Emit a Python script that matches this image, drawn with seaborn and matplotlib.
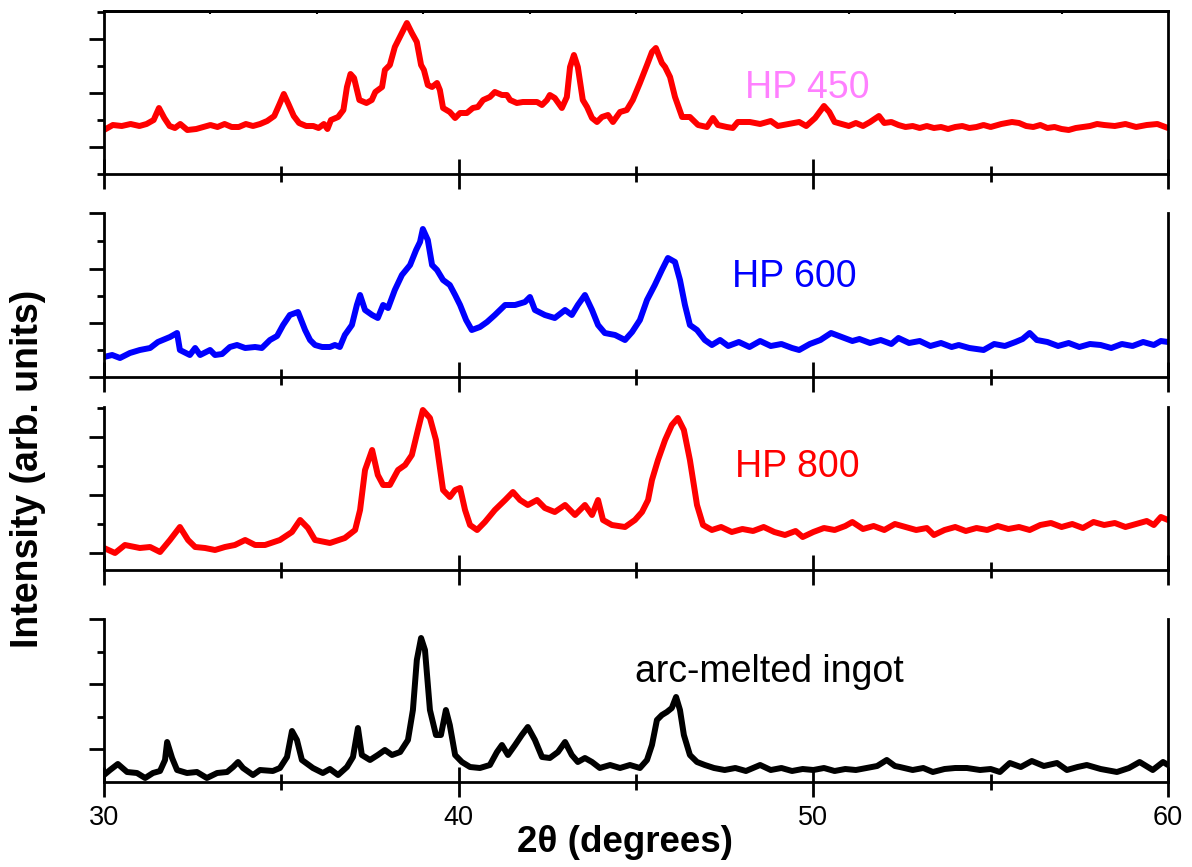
import numpy as np
import pandas as pd
import matplotlib
matplotlib.use("Agg")
import matplotlib.pyplot as plt
import seaborn as sns

# XRD patterns, 2-theta (degrees) vs intensity (arb. units)
hp450_2theta = [30.00, 30.25, 30.5, 30.75, 31.0, 31.2, 31.4, 31.55, 31.7, 31.85, 32.0, 32.15, 32.35, 32.6, 32.8,
                33.0, 33.2, 33.4, 33.6, 33.8, 34.0, 34.2, 34.4, 34.6, 34.8, 34.95, 35.07, 35.2, 35.35, 35.5, 35.7,
                35.9, 36.05, 36.2, 36.3, 36.4, 36.6, 36.75, 36.85, 36.95, 37.05, 37.2, 37.4, 37.55, 37.65, 37.84,
                37.92, 38.06, 38.2, 38.4, 38.54, 38.68, 38.82, 38.94, 39.02, 39.13, 39.25, 39.39, 39.47, 39.56,
                39.75, 39.9, 40.04, 40.23, 40.4, 40.54, 40.69, 40.88, 41.02, 41.22, 41.36, 41.45, 41.64, 41.81,
                42.01, 42.21, 42.35, 42.49, 42.57, 42.71, 42.91, 43.05, 43.14, 43.25, 43.36, 43.5, 43.62, 43.76,
                43.9, 44.04, 44.21, 44.35, 44.55, 44.74, 44.91, 45.11, 45.31, 45.45, 45.56, 45.73, 45.82, 45.96,
                46.1, 46.3, 46.52, 46.75, 47.0, 47.17, 47.31, 47.56, 47.73, 47.87, 48.21, 48.5, 48.8, 49.0, 49.3,
                49.6, 49.8, 50.05, 50.3, 50.45, 50.6, 50.8, 51.0, 51.2, 51.4, 51.6, 51.85, 52.0, 52.2, 52.4, 52.6,
                52.8, 53.0, 53.2, 53.4, 53.6, 53.8, 54.0, 54.2, 54.4, 54.6, 54.8, 55.0, 55.3, 55.6, 55.8, 56.0,
                56.2, 56.4, 56.6, 56.8, 57.0, 57.2, 57.4, 57.6, 57.8, 58.0, 58.2, 58.5, 58.8, 59.1, 59.4, 59.7, 60.0]
hp450_int = [44, 49, 48, 50, 48, 50, 54, 66, 56, 48, 46, 50, 44, 45, 47,
             49, 47, 50, 47, 47, 50, 48, 50, 53, 58, 70, 80, 70, 58, 51, 48,
             48, 46, 50, 45, 54, 57, 64, 87, 100, 96, 74, 71, 74, 82, 87,
             104, 109, 127, 141, 151, 141, 132, 109, 104, 89, 87, 91, 84, 66,
             62, 56, 61, 61, 66, 67, 74, 77, 82, 79, 79, 74, 71, 72,
             72, 72, 69, 74, 79, 76, 66, 77, 107, 119, 107, 74, 67, 56,
             52, 57, 59, 52, 62, 64, 74, 91, 109, 122, 126, 111, 107, 97,
             77, 57, 57, 49, 47, 56, 49, 47, 46, 52, 52, 50, 53, 48, 50,
             52, 48, 56, 68, 62, 52, 50, 48, 51, 48, 52, 58, 51, 52, 49, 47,
             48, 46, 48, 46, 47, 45, 47, 48, 46, 47, 49, 47, 50, 52, 51, 48,
             47, 49, 46, 47, 45, 44, 46, 47, 48, 50, 49, 48, 50, 47, 49, 50, 46]

hp600_2theta = [30.00, 30.23, 30.45, 30.73, 31.01, 31.30, 31.52, 31.86, 32.06, 32.14, 32.42, 32.57, 32.71, 32.99,
                33.13, 33.33, 33.55, 33.75, 33.98, 34.26, 34.45, 34.68, 34.88, 35.05, 35.24, 35.47, 35.67, 35.81,
                35.95, 36.15, 36.37, 36.51, 36.65, 36.79, 36.99, 37.13, 37.22, 37.36, 37.56, 37.72, 37.87, 38.01,
                38.20, 38.40, 38.63, 38.80, 38.91, 38.99, 39.13, 39.25, 39.39, 39.56, 39.75, 39.90, 40.04, 40.21,
                40.37, 40.60, 40.80, 41.02, 41.31, 41.59, 41.87, 42.01, 42.15, 42.43, 42.71, 43.00, 43.19, 43.36,
                43.56, 43.76, 43.93, 44.12, 44.41, 44.69, 44.89, 45.11, 45.31, 45.53, 45.73, 45.90, 46.10, 46.24,
                46.38, 46.52, 46.72, 46.94, 47.14, 47.37, 47.6, 47.9, 48.2, 48.5, 48.8, 49.1, 49.4, 49.6, 49.9,
                50.2, 50.5, 50.8, 51.1, 51.3, 51.6, 51.9, 52.2, 52.4, 52.7, 53.0, 53.3, 53.6, 53.9, 54.1, 54.4,
                54.8, 55.1, 55.4, 55.7, 55.9, 56.1, 56.3, 56.6, 56.9, 57.2, 57.5, 57.8, 58.1, 58.4, 58.7, 59.0,
                59.3, 59.6, 59.8, 60.0]
hp600_int = [20, 22, 19, 24, 27, 29, 35, 40, 44, 27, 22, 29, 22, 27,
             22, 23, 30, 32, 29, 30, 29, 37, 41, 52, 62, 65, 47, 37,
             32, 30, 30, 32, 30, 42, 52, 72, 82, 67, 62, 59, 72, 69,
             87, 102, 112, 127, 135, 148, 137, 112, 107, 97, 92, 82, 72, 57,
             47, 50, 55, 62, 72, 72, 75, 80, 67, 62, 59, 67, 62, 72,
             82, 67, 52, 44, 42, 37, 45, 57, 77, 92, 107, 119, 115, 97,
             72, 52, 47, 37, 32, 37, 31, 35, 30, 36, 31, 33, 29, 27, 33,
             37, 44, 40, 36, 38, 34, 37, 33, 39, 34, 36, 31, 34, 30, 32, 29,
             27, 33, 31, 35, 38, 44, 37, 35, 31, 34, 30, 33, 32, 29, 33, 31,
             35, 32, 36, 35]

hp800_2theta = [30.00, 30.31, 30.59, 31.01, 31.30, 31.58, 31.86, 32.14, 32.37, 32.57, 32.85, 33.13, 33.41, 33.69,
                33.98, 34.26, 34.54, 34.96, 35.30, 35.53, 35.75, 35.95, 36.37, 36.79, 37.08, 37.22, 37.36, 37.56,
                37.72, 37.87, 38.06, 38.29, 38.49, 38.68, 38.85, 38.99, 39.19, 39.36, 39.56, 39.75, 39.90, 40.04,
                40.18, 40.32, 40.52, 40.74, 41.02, 41.31, 41.53, 41.73, 41.95, 42.21, 42.43, 42.71, 43.00, 43.28,
                43.56, 43.76, 43.93, 44.07, 44.32, 44.69, 44.97, 45.17, 45.34, 45.45, 45.62, 45.82, 46.01, 46.18,
                46.35, 46.52, 46.72, 46.89, 47.14, 47.4, 47.7, 48.0, 48.3, 48.6, 48.9, 49.2, 49.5, 49.7, 50.0,
                50.3, 50.6, 50.9, 51.1, 51.4, 51.7, 52.0, 52.3, 52.6, 52.9, 53.2, 53.4, 53.7, 54.0, 54.3, 54.6,
                54.9, 55.2, 55.5, 55.8, 56.1, 56.4, 56.7, 57.0, 57.3, 57.6, 57.9, 58.2, 58.5, 58.8, 59.1, 59.4,
                59.6, 59.8, 60.0]
hp800_int = [22, 17, 25, 22, 23, 18, 30, 43, 30, 23, 22, 20, 23, 25,
             30, 25, 25, 30, 38, 50, 42, 30, 27, 32, 40, 60, 100, 120,
             95, 85, 85, 100, 105, 115, 140, 160, 152, 130, 80, 73, 80, 82,
             60, 45, 40, 48, 60, 70, 78, 70, 65, 70, 62, 58, 65, 55,
             65, 55, 70, 50, 45, 43, 50, 58, 70, 90, 110, 130, 145, 152,
             140, 110, 65, 45, 40, 43, 38, 41, 39, 43, 38, 35, 39, 33, 38,
             42, 40, 44, 48, 41, 44, 40, 46, 43, 40, 42, 35, 40, 43, 39, 42,
             40, 44, 41, 43, 40, 45, 47, 43, 46, 42, 48, 45, 47, 43, 46, 49,
             45, 53, 50]

ingot_2theta = [30.00, 30.17, 30.39, 30.65, 30.93, 31.16, 31.38, 31.58, 31.72, 31.78, 31.92, 32.06, 32.34, 32.62,
                32.90, 33.19, 33.47, 33.64, 33.78, 33.92, 34.20, 34.40, 34.76, 34.96, 35.16, 35.30, 35.44, 35.58,
                35.89, 36.17, 36.37, 36.60, 36.85, 37.02, 37.16, 37.27, 37.50, 37.72, 37.92, 38.12, 38.35, 38.57,
                38.71, 38.82, 38.94, 39.05, 39.19, 39.36, 39.50, 39.64, 39.75, 39.90, 40.09, 40.32, 40.60, 40.88,
                41.08, 41.22, 41.39, 41.59, 41.78, 41.95, 42.15, 42.35, 42.57, 42.80, 43.00, 43.19, 43.36, 43.56,
                43.76, 43.98, 44.27, 44.55, 44.83, 45.11, 45.31, 45.45, 45.59, 45.73, 45.87, 46.01, 46.13, 46.24,
                46.35, 46.52, 46.72, 46.94, 47.2, 47.5, 47.8, 48.1, 48.5, 48.8, 49.1, 49.4, 49.7, 50.0, 50.3,
                50.6, 50.9, 51.2, 51.5, 51.8, 52.07, 52.3, 52.44, 52.8, 53.1, 53.37, 53.7, 54.0, 54.33, 54.7,
                55.0, 55.26, 55.54, 55.85, 56.16, 56.5, 56.87, 57.15, 57.45, 57.71, 58.1, 58.56, 58.9, 59.2,
                59.57, 59.86, 60.0]
ingot_int = [7, 12, 18, 10, 9, 4, 9, 11, 22, 40, 24, 12, 9, 10,
             4, 9, 10, 15, 20, 14, 7, 12, 11, 14, 25, 51, 42, 22,
             14, 9, 13, 7, 15, 25, 54, 27, 22, 27, 32, 27, 30, 42,
             72, 122, 144, 132, 72, 47, 47, 72, 57, 27, 20, 15, 14, 17,
             30, 37, 27, 37, 47, 55, 42, 25, 24, 30, 40, 27, 20, 24,
             20, 14, 17, 14, 17, 14, 22, 37, 62, 67, 70, 74, 85, 72,
             47, 27, 20, 17, 14, 12, 14, 11, 17, 12, 14, 11, 13, 12, 14,
             11, 13, 12, 14, 16, 22, 16, 15, 12, 14, 10, 13, 14, 14, 12,
             13, 10, 19, 15, 21, 16, 19, 12, 15, 17, 13, 10, 14, 20,
             12, 20, 17]

panel_labels = ["HP 450", "HP 600", "HP 800", "arc-melted ingot"]
label_colors = ["#ff80ff", "#0000ff", "#ff0000", "#000000"]
line_colors = ["#ff0000", "#0000ff", "#ff0000", "#000000"]
label_pos = [(48.07, 86), (47.70, 100), (47.79, 103), (44.97, 110)]
x_major = [30, 40, 50, 60]
x_minor = [35, 45, 55]

series = [(hp450_2theta, hp450_int), (hp600_2theta, hp600_int),
          (hp800_2theta, hp800_int), (ingot_2theta, ingot_int)]

# per-panel intensity window and y ticks (arb. units)
y_limits = [(0, 163), (0, 164), (0, 163), (0, 163)]
y_major = [[27, 81, 135], [0, 54, 108, 164], [17, 75, 133], [33, 98, 163]]
y_minor = [[0, 54, 108, 162], [27, 81, 136], [46, 104, 162], [65, 130]]

sns.set_theme(style="ticks")
plt.rcParams["font.family"] = ["Liberation Sans", "DejaVu Sans"]
plt.rcParams["text.color"] = "black"
plt.rcParams["axes.labelcolor"] = "black"
plt.rcParams["xtick.color"] = "black"
plt.rcParams["ytick.color"] = "black"

W, H = 1192, 867
fig = plt.figure(figsize=(W / 100, H / 100), dpi=100)

left, width = 104 / W, 1064 / W
tops = [11, 213, 407, 619]
heights = [163, 164, 163, 163]

for i, ((xs, ys), top, hgt) in enumerate(zip(series, tops, heights)):
    ax = fig.add_axes([left, 1 - (top + hgt) / H, width, hgt / H])
    df = pd.DataFrame({"two_theta": xs, "intensity": ys})
    sns.lineplot(data=df, x="two_theta", y="intensity", ax=ax, color=line_colors[i],
                 linewidth=4.3, legend=False, estimator=None, sort=False,
                 solid_joinstyle="round", solid_capstyle="round")
    ax.set_xlim(30, 60)
    ax.set_ylim(*y_limits[i])
    ax.set_xlabel("")
    ax.set_ylabel("")

    for side in ["left", "right", "bottom", "top"]:
        ax.spines[side].set_linewidth(2.0)
        ax.spines[side].set_color("black")
    if i > 0:
        ax.spines["top"].set_visible(False)

    ax.set_xticks(x_major)
    ax.set_xticks(x_minor, minor=True)
    ax.tick_params(axis="x", which="major", direction="inout", length=21, width=2.0,
                   labelsize=19.5, pad=6, colors="black", labelbottom=(i == 3))
    ax.tick_params(axis="x", which="minor", direction="inout", length=11, width=2.0, colors="black")

    ax.set_yticks(y_major[i])
    ax.set_yticks(y_minor[i], minor=True)
    ax.tick_params(axis="y", which="major", direction="out", length=11, width=2.0,
                   labelleft=False, colors="black")
    ax.tick_params(axis="y", which="minor", direction="out", length=5, width=2.0, colors="black")

    if i == 0:
        top_ax = ax.secondary_xaxis("top")
        top_ax.set_xticks(np.arange(33, 60, 3))
        top_ax.tick_params(axis="x", direction="in", length=2.5, width=1.5, labeltop=False, colors="black")
        top_ax.spines["top"].set_linewidth(2.0)
        top_ax.spines["top"].set_color("black")

    lx, ly = label_pos[i]
    ax.text(lx, ly, panel_labels[i], color=label_colors[i], fontsize=27, ha="left", va="center")

fig.text(28 / W, 1 - 469 / H, "Intensity (arb. units)", rotation=90, fontsize=27,
         fontweight="bold", ha="center", va="center", color="black")
fig.text(625 / W, 1 - 843 / H, "2θ (degrees)", fontsize=26.5, fontweight="bold",
         ha="center", va="center", color="black")

fig.savefig("out.png", dpi=100)
